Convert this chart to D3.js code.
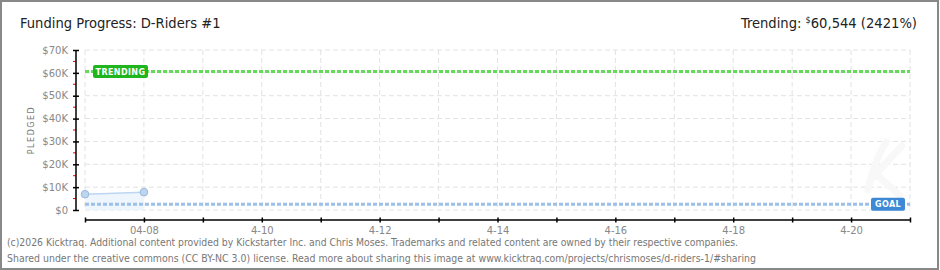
<!DOCTYPE html>
<html>
<head>
<script src="https://d3js.org/d3.v7.min.js"></script>
<style>
  body { margin: 0; background: #fff; }
  svg { display: block; }
</style>
</head>
<body>
<svg id="chart" width="940" height="270"></svg>
<script>
// data
const dates = ["2026-04-07", "2026-04-08"];
const pledged = [6900, 7800];
const goal = 2500;
const trending = 60544;
const trendingPct = "2421%";
const yTicks = [0, 10000, 20000, 30000, 40000, 50000, 60000, 70000];
const xLabelDates = ["2026-04-08", "2026-04-10", "2026-04-12", "2026-04-14", "2026-04-16", "2026-04-18", "2026-04-20"];
const xLabels = ["04-08", "4-10", "4-12", "4-14", "4-16", "4-18", "4-20"];

const svg = d3.select("svg#chart");
const W = +svg.attr("width"), H = +svg.attr("height");
const parse = d3.utcParse("%Y-%m-%d");

// frame
svg.append("rect").attr("x", 1).attr("y", 1).attr("width", W - 3).attr("height", H - 2)
   .attr("fill", "#fff").attr("stroke", "#888").attr("stroke-width", 2);

const x = d3.scaleUtc().domain([parse("2026-04-07"), parse("2026-04-21")]).range([85, 910]);
const y = d3.scaleLinear().domain([0, 70000]).range([210, 50]);

const days = d3.utcDay.range(parse("2026-04-07"), d3.utcDay.offset(parse("2026-04-21"), 1));

// grid
const grid = svg.append("g").attr("stroke", "#e2e2e2").attr("stroke-dasharray", "5,3");
grid.selectAll("line.v").data(days).join("line").attr("class", "v")
    .attr("x1", d => x(d)).attr("x2", d => x(d)).attr("y1", y(70000)).attr("y2", y(0));
grid.selectAll("line.h").data(yTicks).join("line").attr("class", "h")
    .attr("x1", x.range()[0]).attr("x2", x.range()[1]).attr("y1", d => y(d)).attr("y2", d => y(d));

// faint logo watermark
svg.append("path")
   .attr("d", "M868,190 C872,170 878,155 886,142 M873,178 C884,165 896,152 902,146 M876,175 C884,180 892,188 900,196")
   .attr("fill", "none").attr("stroke", "#f8f8f8").attr("stroke-width", 7).attr("stroke-linecap", "round");

// pledged area + line
const pts = dates.map((d, i) => ({ date: parse(d), v: pledged[i] }));
svg.append("path").datum(pts)
   .attr("d", d3.area().x(d => x(d.date)).y0(y(0)).y1(d => y(d.v)))
   .attr("fill", "#eef5fd");
svg.append("path").datum(pts)
   .attr("d", d3.line().x(d => x(d.date)).y(d => y(d.v)))
   .attr("fill", "none").attr("stroke", "#bcd6f2").attr("stroke-width", 1.5);

// goal + trending lines
svg.append("line").attr("x1", x.range()[0]).attr("x2", x.range()[1])
   .attr("y1", y(goal)).attr("y2", y(goal))
   .attr("stroke", "#9cc0e8").attr("stroke-width", 3).attr("stroke-dasharray", "4,2");
svg.append("line").attr("x1", x.range()[0]).attr("x2", x.range()[1])
   .attr("y1", y(trending)).attr("y2", y(trending))
   .attr("stroke", "#66d95a").attr("stroke-width", 3).attr("stroke-dasharray", "4,2");

svg.selectAll("circle.pt").data(pts).join("circle").attr("class", "pt")
   .attr("cx", d => x(d.date)).attr("cy", d => y(d.v)).attr("r", 3.8)
   .attr("fill", "#bcd6f2").attr("stroke", "#9db8d8").attr("stroke-width", 1);

// labels on the lines
function tag(xl, yc, w, fill, txt) {
  svg.append("rect").attr("x", xl).attr("y", yc - 6.5).attr("width", w).attr("height", 13)
     .attr("rx", 2).attr("fill", fill);
  svg.append("text").attr("x", xl + w / 2).attr("y", yc + 3).attr("text-anchor", "middle")
     .attr("font-family", "DejaVu Sans").attr("font-weight", "bold").attr("font-size", 8)
     .attr("letter-spacing", 0.4).attr("fill", "#fff").text(txt);
}
tag(93, y(trending), 55, "#1fb51f", "TRENDING");
tag(871, y(goal), 34, "#3d89d6", "GOAL");

// x axis
const xAxis = svg.append("g").attr("transform", "translate(0,220)")
  .call(d3.axisBottom(x).tickValues(days).tickSize(2).tickFormat(d => {
    const i = xLabelDates.indexOf(d3.utcFormat("%Y-%m-%d")(d));
    return i >= 0 ? xLabels[i] : "";
  }));
xAxis.select(".domain").attr("stroke", "#000").attr("stroke-width", 1.5).attr("d", `M${x.range()[0]},0H${x.range()[1]}`);
xAxis.selectAll(".tick line").attr("y1", -2.5).attr("y2", 2.5).attr("stroke", "#000").attr("stroke-width", 1.5);
xAxis.selectAll(".tick text").attr("y", 7).attr("fill", "#888")
     .attr("font-family", "DejaVu Sans").attr("font-size", 10);

// y axis
const minor = d3.range(5000, 70000, 10000);
svg.append("g").selectAll("line").data(minor).join("line")
   .attr("x1", 73).attr("x2", 76).attr("y1", d => y(d)).attr("y2", d => y(d))
   .attr("stroke", "#e00").attr("stroke-width", 1);
const yAxis = svg.append("g").attr("transform", "translate(76,0)")
  .call(d3.axisLeft(y).tickValues(yTicks).tickSize(3).tickFormat(d => "$" + (d === 0 ? "0" : d / 1000 + "K")));
yAxis.select(".domain").attr("stroke", "#000").attr("stroke-width", 1.5).attr("d", `M0,${y(70000)}V${y(0)}`);
yAxis.selectAll(".tick line").attr("x1", -3).attr("x2", 3).attr("stroke", "#000").attr("stroke-width", 1.5);
yAxis.selectAll(".tick text").attr("x", -8).attr("fill", "#888")
     .attr("font-family", "DejaVu Sans").attr("font-size", 10);

svg.append("text").attr("transform", `translate(34,${y(35000)}) rotate(-90)`)
   .attr("text-anchor", "middle").attr("font-family", "DejaVu Sans").attr("font-size", 8)
   .attr("letter-spacing", 1.5).attr("fill", "#777").text("PLEDGED");

// header
svg.append("text").attr("x", 20).attr("y", 28).attr("font-family", "DejaVu Sans Condensed")
   .attr("font-size", 14.6).attr("fill", "#222").text("Funding Progress: D-Riders #1");
const tr = svg.append("text").attr("x", 917).attr("y", 28).attr("text-anchor", "end")
   .attr("font-family", "DejaVu Sans Condensed").attr("font-size", 14.6).attr("fill", "#222");
tr.append("tspan").text("Trending:  ");
tr.append("tspan").attr("font-size", 9).attr("dy", -5).text("$");
tr.append("tspan").attr("dy", 5).text(d3.format(",")(trending) + " (" + trendingPct + ")");

// footer
const foot = [
  "(c)2026 Kicktraq. Additional content provided by Kickstarter Inc. and Chris Moses. Trademarks and related content are owned by their respective companies.",
  "Shared under the creative commons (CC BY-NC 3.0) license. Read more about sharing this image at www.kicktraq.com/projects/chrismoses/d-riders-1/#sharing"
];
const footW = [731, 749];
svg.selectAll("text.foot").data(foot).join("text").attr("class", "foot")
   .attr("x", 7).attr("y", (d, i) => 246 + i * 16)
   .attr("font-family", "DejaVu Sans Condensed").attr("font-size", 10).attr("fill", "#777")
   .attr("textLength", (d, i) => footW[i]).attr("lengthAdjust", "spacingAndGlyphs")
   .text(d => d);
</script>
</body>
</html>
